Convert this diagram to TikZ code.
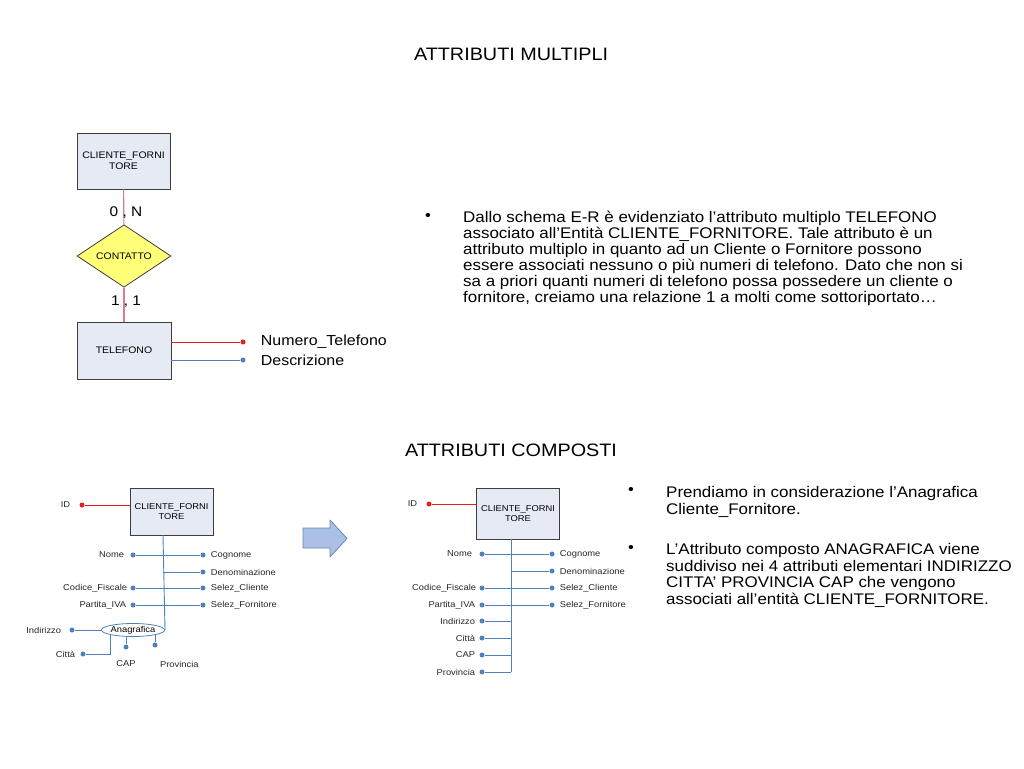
\documentclass[tikz,border=0pt]{standalone}
\usepackage{fontspec}
\setmainfont{Liberation Sans}[FakeStretch=1.1]
\usetikzlibrary{positioning,shapes.geometric}
\definecolor{entfill}{RGB}{230,234,244}
\definecolor{entdraw}{RGB}{60,60,60}
\definecolor{relfill}{RGB}{255,255,120}
\definecolor{attblue}{RGB}{79,129,189}
\definecolor{attred}{RGB}{230,30,30}
\definecolor{linkred}{RGB}{215,125,140}
\definecolor{arrfill}{RGB}{170,192,228}
\definecolor{arrdraw}{RGB}{105,135,190}
\tikzset{
  ent/.style={draw=entdraw,fill=entfill,line width=0.9pt,align=center,inner sep=0pt,font=\fontsize{9.5}{11}\selectfont},
  small/.style={font=\fontsize{8.5}{10}\selectfont},
  rel/.style={diamond,draw=entdraw,fill=relfill,line width=0.8pt,inner sep=0pt,minimum width=94pt,minimum height=56pt,font=\fontsize{9.5}{10}\selectfont},
  link/.style={linkred,line width=1.1pt},
  redline/.style={attred,line width=0.9pt},
  blueline/.style={attblue,line width=0.9pt},
  dotb/.style={circle,fill=attblue,inner sep=0pt,minimum size=5pt},
  dotr/.style={circle,fill=attred,inner sep=0pt,minimum size=5pt},
  card/.style={font=\fontsize{14}{16}\selectfont,inner sep=0pt},
  lbl/.style={font=\fontsize{14.5}{16}\selectfont,inner sep=0pt},
  att/.style={font=\fontsize{8.5}{10}\selectfont,inner sep=0pt,text=black!85},
  ell/.style={ellipse,draw=attblue,fill=white,line width=0.8pt,inner sep=0pt,minimum width=60pt,minimum height=13pt,font=\fontsize{8.5}{10}\selectfont},
  title/.style={font=\fontsize{18}{20}\selectfont,inner sep=0pt},
  body/.style={font=\fontsize{15.4}{16}\selectfont,inner sep=0pt,align=left,anchor=north west},
  bul/.style={font=\fontsize{15}{16}\selectfont,inner sep=0pt},
  bigarrow/.style={draw=arrdraw,fill=arrfill,line width=0.8pt,line join=round}
}

\begin{document}
\begin{tikzpicture}[x=1pt,y=-1pt]
  \useasboundingbox (0,0) rectangle (1024,768);
  \fill[white] (0,0) rectangle (1024,768);

  \node[title] (t1) at (511,54) {ATTRIBUTI MULTIPLI};
  \node[title] (t2) at (511,450) {ATTRIBUTI COMPOSTI};

  \node[ent,minimum width=93pt,minimum height=56pt] (cf) at (123.5,161) {CLIENTE\_FORNI\\TORE};
  \node[rel] (cont) at (124,256) {CONTATTO};
  \node[ent,minimum width=94pt,minimum height=57pt] (tel) at (124,350.5) {TELEFONO};
  \draw[link] (cf) -- (cont);
  \draw[link] (cont) -- (tel);
  \node[card] (c1) at (126,213) {0 , N};
  \node[card] (c2) at (126,302) {1 , 1};
  \node[dotr] (num) at (243,342) {};
  \node[dotb] (descr) at (243,360) {};
  \draw[redline] (tel.east |- num) -- (num);
  \draw[blueline] (tel.east |- descr) -- (descr);
  \node[lbl,right=15pt of num] (numl) {Numero\_Telefono};
  \node[lbl,right=15pt of descr] (descrl) {Descrizione};

  \node[bul] (b1) at (428,217) {•};
  \node[body] (p1) at (463,211) {Dallo schema E-R è evidenziato l’attributo multiplo TELEFONO\\
    associato all’Entità CLIENTE\_FORNITORE. Tale attributo è un\\
    attributo multiplo in quanto ad un Cliente o Fornitore possono\\
    essere associati nessuno o più numeri di telefono. Dato che non si\\
    sa a priori quanti numeri di telefono possa possedere un cliente o\\
    fornitore, creiamo una relazione 1 a molti come sottoriportato…};

  % composto
  \node[ent,small,minimum width=83pt,minimum height=47pt] (cf2) at (171.5,511.5) {CLIENTE\_FORNI\\TORE};
  \node[dotr] (id2) at (82,505) {};
  \node[att,left=9pt of id2] {ID};
  \draw[redline] (id2) -- (cf2.west |- id2);
  \coordinate (s2) at (163,535);
  \node[ell] (ana) at (133,630) {Anagrafica};
  \draw[blueline] (s2) -- (ana.east);
  \node[dotb] (nome2) at (133,555) {};
  \node[dotb] (cogn2) at (203,555) {};
  \node[dotb] (deno2) at (203,572) {};
  \node[dotb] (codf2) at (133,588) {};
  \node[dotb] (selc2) at (203,588) {};
  \node[dotb] (piva2) at (133,605) {};
  \node[dotb] (self2) at (203,605) {};
  \draw[blueline] (nome2) -- (cogn2);
  \draw[blueline] (s2 |- deno2) -- (deno2);
  \draw[blueline] (codf2) -- (selc2);
  \draw[blueline] (piva2) -- (self2);
  \node[att,left=6pt of nome2] {Nome};
  \node[att,left=3pt of codf2] {Codice\_Fiscale};
  \node[att,left=4pt of piva2] {Partita\_IVA};
  \node[att,right=5pt of cogn2] {Cognome};
  \node[att,right=5pt of deno2] {Denominazione};
  \node[att,right=5pt of selc2] {Selez\_Cliente};
  \node[att,right=5pt of self2] {Selez\_Fornitore};
  \node[dotb] (ind2) at (72,630) {};
  \node[dotb] (cit2) at (83,654) {};
  \node[dotb] (cap2) at (126,647) {};
  \node[dotb] (prov2) at (155,645) {};
  \draw[blueline] (ind2) -- (ana.west);
  \draw[blueline] (cit2) -| (ana.south west);
  \draw[blueline] (cap2) -- (cap2 |- ana.south);
  \draw[blueline] (prov2) -- (prov2 |- ana.south east);
  \node[att,left=8pt of ind2] {Indirizzo};
  \node[att,left=5pt of cit2] {Città};
  \node[att,below=11pt of cap2] {CAP};
  \node[att,below right=14pt and 3pt of prov2] {Provincia};

  \draw[bigarrow] (303,528) -- (330,528) -- (330,520) -- (347,538.5) -- (330,557) -- (330,548) -- (303,548) -- cycle;

  \begin{scope}[xshift=348pt]
    \node[ent,small,minimum width=83pt,minimum height=51pt] (cf3) at (170,513.5) {CLIENTE\_FORNI\\TORE};
    \node[dotr] (id3) at (81,504) {};
    \node[att,left=9pt of id3] {ID};
    \draw[redline] (id3) -- (cf3.west |- id3);
    \coordinate (s3) at (163,539);
    \coordinate (e3) at (163,672);
    \draw[blueline] (s3) -- (e3);
    \node[dotb] (nome3) at (134,554) {};
    \node[dotb] (cogn3) at (204,554) {};
    \node[dotb] (deno3) at (204,571) {};
    \node[dotb] (codf3) at (134,588) {};
    \node[dotb] (selc3) at (204,588) {};
    \node[dotb] (piva3) at (134,605) {};
    \node[dotb] (self3) at (204,605) {};
    \node[dotb] (ind3) at (134,621) {};
    \node[dotb] (cit3) at (134,638) {};
    \node[dotb] (cap3) at (134,655) {};
    \node[dotb] (prov3) at (134,672) {};
    \draw[blueline] (nome3) -- (cogn3);
    \draw[blueline] (s3 |- deno3) -- (deno3);
    \draw[blueline] (codf3) -- (selc3);
    \draw[blueline] (piva3) -- (self3);
    \draw[blueline] (ind3) -- (s3 |- ind3);
    \draw[blueline] (cit3) -- (s3 |- cit3);
    \draw[blueline] (cap3) -- (s3 |- cap3);
    \draw[blueline] (prov3) -- (e3);
    \node[att,left=7pt of nome3] {Nome};
    \node[att,left=3pt of codf3] {Codice\_Fiscale};
    \node[att,left=4pt of piva3] {Partita\_IVA};
    \node[att,left=4pt of ind3] {Indirizzo};
    \node[att,left=4pt of cit3] {Città};
    \node[att,left=4pt of cap3] {CAP};
    \node[att,left=4pt of prov3] {Provincia};
    \node[att,right=5pt of cogn3] {Cognome};
    \node[att,right=5pt of deno3] {Denominazione};
    \node[att,right=5pt of selc3] {Selez\_Cliente};
    \node[att,right=5pt of self3] {Selez\_Fornitore};
  \end{scope}

  \node[bul] (b2) at (631,491) {•};
  \node[bul] (b3) at (631,549) {•};
  \node[body,font=\fontsize{15.4}{16.7}\selectfont] (p2) at (666,486) {Prendiamo in considerazione l’Anagrafica\\
    Cliente\_Fornitore.};
  \node[body,font=\fontsize{15.4}{16.7}\selectfont] (p3) at (666,543) {L’Attributo composto ANAGRAFICA viene\\
    suddiviso nei 4 attributi elementari INDIRIZZO\\
    CITTA’ PROVINCIA CAP che vengono\\
    associati all’entità CLIENTE\_FORNITORE.};
\end{tikzpicture}
\end{document}
